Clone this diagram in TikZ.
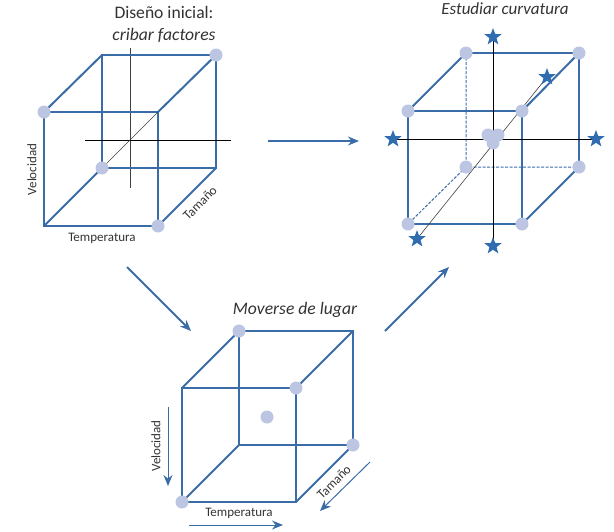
\documentclass[tikz,border=0pt]{standalone}
\usepackage{fontspec}
\setmainfont{Carlito}
\usetikzlibrary{shapes.geometric,arrows.meta,backgrounds}
\definecolor{cubeblue}{HTML}{3A6CA8}
\definecolor{dotblue}{HTML}{BCC6E2}
\definecolor{starblue}{HTML}{2F6DB0}
\definecolor{txt}{HTML}{333333}
\tikzset{
  edge/.style={draw=cubeblue,line width=2pt,line cap=round},
  hidden/.style={draw=cubeblue,line width=1pt,dash pattern=on 3pt off 1.5pt},
  axis/.style={draw=black,line width=0.8pt},
  thinaxis/.style={draw=black!75,line width=0.6pt},
  corner/.style={circle,fill=dotblue,inner sep=0pt,minimum size=13pt},
  starmark/.style={star,star points=5,star point ratio=2.4,fill=starblue,inner sep=0pt,minimum size=18pt},
  flow/.style={draw=cubeblue,line width=1.8pt,-{Stealth[length=11pt,width=9pt]}},
  hint/.style={draw=cubeblue,line width=1pt,-{Stealth[length=11pt,width=9pt]}},
  lab/.style={text=txt,font=\fontsize{13}{14}\selectfont,inner sep=0pt},
  head/.style={text=txt,font=\fontsize{17.6}{22}\selectfont,inner sep=0pt,align=center}
}
\begin{document}
\begin{tikzpicture}[x=1pt,y=-1pt]
\useasboundingbox (0,0) rectangle (614,531);
% Cube 1
\coordinate (af) at (44,112); \coordinate (bf) at (158,112); \coordinate (cf) at (158,226); \coordinate (df) at (44,226);
\coordinate (ab) at (102,55); \coordinate (bb) at (216,55); \coordinate (cb) at (216,168); \coordinate (db) at (102,168);
\coordinate (av1) at (130,48); \coordinate (av2) at (130,188); \coordinate (ah1) at (85,140); \coordinate (ah2) at (231,140);
\draw[thinaxis] (av1) -- (av2);
\draw[edge] (ab) -- (bb) -- (cb) -- (db) -- cycle;
\draw[edge] (af) -- (bf) -- (cf) -- (df) -- cycle;
\draw[edge] (af) -- (ab) (cf) -- (cb) (df) -- (db) (bf) -- (bb);
\draw[axis] (ah1) -- (ah2);
\draw[thinaxis] (db) -- (bf);
\node[corner] at (af) {}; \node[corner] at (bb) {}; \node[corner] at (db) {}; \node[corner] at (cf) {};
\node[head] (t1) at (164,24) {Diseño inicial:\\\textit{cribar factores}};
\node[lab] (l1) at (102,238) {Temperatura};
\node[lab,rotate=90] (l2) at (32,169.5) {Velocidad};
\node[lab,rotate=45] (l3) at (200,203) {Tamaño};
% Cube 2
\coordinate (xaf) at (408,111); \coordinate (xbf) at (522,111); \coordinate (xcf) at (522,224); \coordinate (xdf) at (408,224);
\coordinate (xab) at (466,53); \coordinate (xbb) at (579,53); \coordinate (xcb) at (579,167); \coordinate (xdb) at (466,167);
\node[starmark] (s1) at (493,37) {}; \node[starmark] (s2) at (493,246) {};
\node[starmark] (s3) at (393,139) {}; \node[starmark] (s4) at (596,139) {};
\node[starmark] (s5) at (547,77) {}; \node[starmark] (s6) at (417,239) {};
\foreach \c in {xaf,xbf,xcf,xdf,xab,xbb,xcb,xdb} \node[corner] at (\c) {};
\node[corner] (m1) at (488,135) {}; \node[corner] (m2) at (498,135) {}; \node[corner] (m3) at (493,143) {};
\begin{scope}[on background layer]
\draw[edge] (xab) -- (xbb) -- (xcb) (xaf) -- (xbf) -- (xcf) -- (xdf) -- cycle;
\draw[edge] (xaf) -- (xab) (xcf) -- (xcb) (xbf) -- (xbb);
\draw[hidden] (xab) -- (xdb) -- (xcb) (xdb) -- (xdf);
\draw[axis] (s1.center) -- (s2.center) (s3.center) -- (s4.center);
\draw[thinaxis] (s5.center) -- (s6.center);
\end{scope}
\node[head,font=\fontsize{17}{21}\selectfont\itshape] (t2) at (505,9) {Estudiar curvatura};
% Cube 3
\coordinate (yaf) at (182,388); \coordinate (ybf) at (296,388); \coordinate (ycf) at (296,502); \coordinate (ydf) at (182,502);
\coordinate (yab) at (239,331); \coordinate (ybb) at (353,331); \coordinate (ycb) at (353,445); \coordinate (ydb) at (239,445);
\draw[edge] (yab) -- (ybb) -- (ycb) -- (ydb) -- cycle;
\draw[edge] (yaf) -- (ybf) -- (ycf) -- (ydf) -- cycle;
\draw[edge] (yaf) -- (yab) (ycf) -- (ycb) (ydf) -- (ydb) (ybf) -- (ybb);
\node[corner] at (yab) {}; \node[corner] at (ybf) {}; \node[corner] at (ycb) {}; \node[corner] at (ydf) {};
\node[corner] (yc) at (267,417) {};
\node[head,font=\fontsize{17.6}{22}\selectfont\itshape] (t3) at (295,310) {Moverse de lugar};
\node[lab] (l4) at (239,513) {Temperatura};
\node[lab,rotate=90] (l5) at (156,446) {Velocidad};
\node[lab,rotate=45] (l6) at (334,482) {Tamaño};
% Flow arrows
\coordinate (f1a) at (268,141); \coordinate (f1b) at (359,141);
\coordinate (f2a) at (127,267); \coordinate (f2b) at (191,331);
\coordinate (f3a) at (385,331); \coordinate (f3b) at (449,267);
\draw[flow] (f1a) -- (f1b);
\draw[flow] (f2a) -- (f2b);
\draw[flow] (f3a) -- (f3b);
\coordinate (h1a) at (168,407); \coordinate (h1b) at (168,486);
\coordinate (h2a) at (189,525); \coordinate (h2b) at (283,525);
\coordinate (h3a) at (370,462); \coordinate (h3b) at (320,511);
\draw[hint] (h1a) -- (h1b);
\draw[hint] (h2a) -- (h2b);
\draw[hint] (h3a) -- (h3b);
\end{tikzpicture}
\end{document}
